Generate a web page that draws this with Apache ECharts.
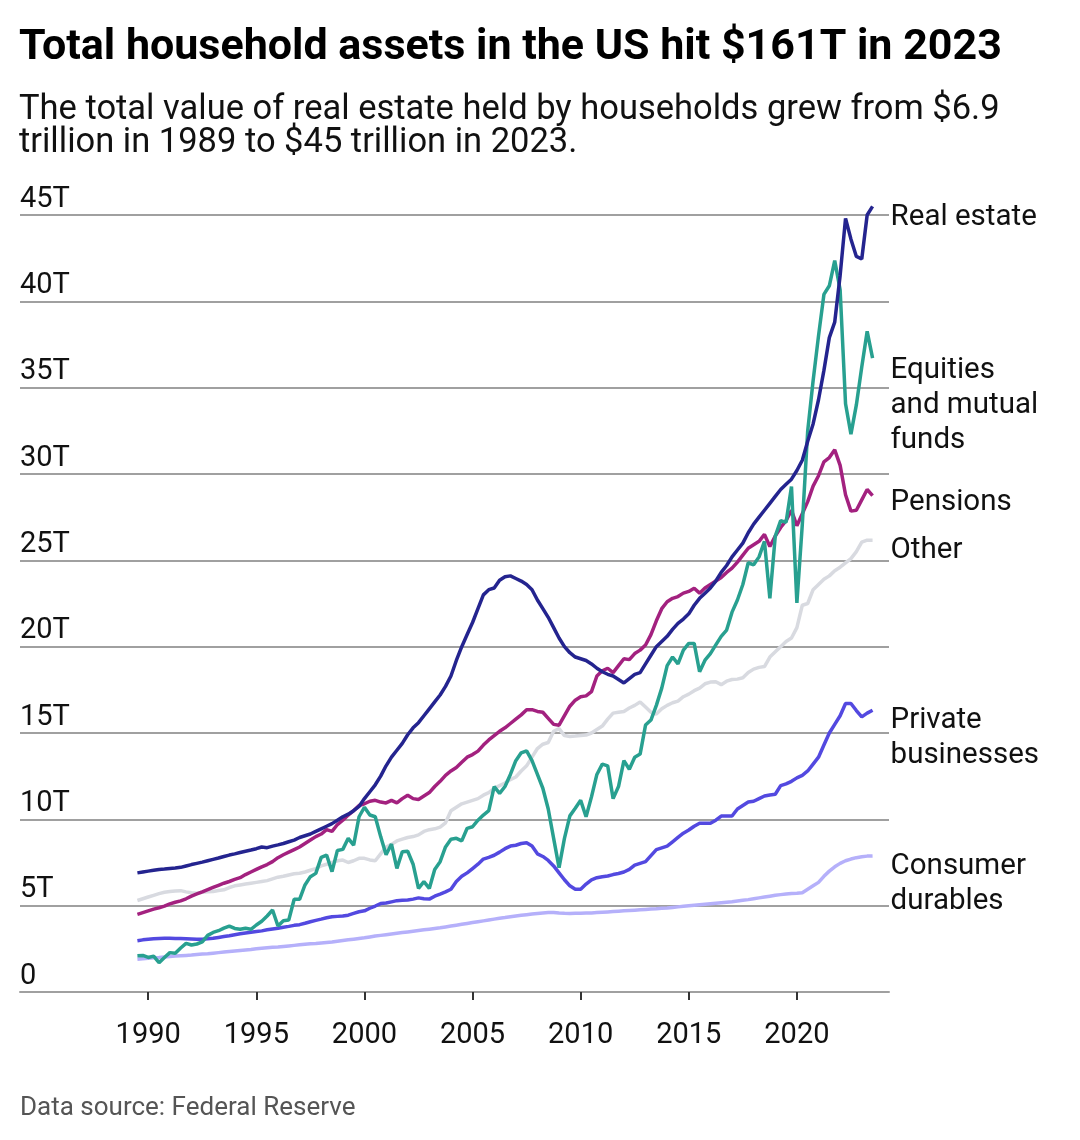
<!DOCTYPE html>
<html>
<head>
<meta charset="utf-8">
<script src="https://cdn.jsdelivr.net/npm/echarts@6/dist/echarts.min.js"></script>
<style>
  html, body { margin: 0; padding: 0; background: #fff; }
  #chart { width: 1080px; height: 1140px; }
</style>
</head>
<body>
<div id="chart"></div>
<script>
// quarterly values in trillions of dollars, Q3 1989 .. Q3 2023
var firstQuarter = 1989.5;
var yearTicks = [1990, 1995, 2000, 2005, 2010, 2015, 2020];

var realEstate = [6.9, 6.95,
  7.0, 7.05, 7.1, 7.12,   7.15, 7.18, 7.22, 7.3,   7.38, 7.45, 7.52, 7.6,   7.68, 7.76, 7.85, 7.93,
  8.0, 8.08, 8.15, 8.22,  8.3, 8.4, 8.36, 8.45,    8.52, 8.6, 8.7, 8.8,     8.95, 9.05, 9.15, 9.3,
  9.45, 9.6, 9.75, 9.95,  10.15, 10.3, 10.5, 10.75, 11.2, 11.6, 12.0, 12.5, 13.1, 13.6, 14.0, 14.4,
  14.9, 15.3, 15.6, 16.0, 16.4, 16.8, 17.2, 17.7,  18.3, 19.2, 20.0, 20.7,  21.4, 22.2, 23.0, 23.3,
  23.4, 23.85, 24.05, 24.1, 23.95, 23.8, 23.6, 23.3, 22.7, 22.2, 21.7, 21.1, 20.5, 20.0, 19.65, 19.4,
  19.3, 19.2, 19.0, 18.75, 18.55, 18.4, 18.3, 18.1, 17.9, 18.15, 18.4, 18.5, 19.0, 19.5, 20.0, 20.3,
  20.6, 21.0, 21.35, 21.6, 21.9, 22.4, 22.8, 23.1,  23.4, 23.8, 24.3, 24.7,  25.2, 25.6, 26.0, 26.6,
  27.1, 27.5, 27.9, 28.3, 28.7, 29.1, 29.4, 29.7,  30.2, 30.8, 31.9, 32.9,  34.3, 36.0, 37.9, 38.8,
  41.5, 44.8, 43.6, 42.6, 42.45, 45.0, 45.5];

var equities = [2.1, 2.12,
  2.0, 2.08, 1.7, 2.0,    2.28, 2.24, 2.55, 2.82,  2.72, 2.78, 2.9, 3.28,  3.45, 3.55, 3.7, 3.82,
  3.68, 3.63, 3.69, 3.63, 3.88, 4.1, 4.4, 4.75,    3.82, 4.13, 4.17, 5.37,  5.37, 6.2, 6.68, 6.87,
  7.8, 7.93, 6.97, 8.2,   8.26, 8.9, 8.51, 10.15,  10.7, 10.25, 10.15, 9.0, 7.95, 8.57, 7.16, 8.12,
  8.15, 7.4, 6.0, 6.39,   6.0, 7.1, 7.55, 8.4,     8.85, 8.9, 8.75, 9.48,   9.57, 9.95, 10.25, 10.5,
  11.89, 11.5, 11.9, 12.6, 13.4, 13.85, 13.97, 13.4, 12.6, 11.8, 10.6, 8.9, 7.2, 8.9, 10.2, 10.64,
  11.1, 10.15, 11.3, 12.6, 13.2, 13.1, 11.2, 11.9, 13.4, 12.9, 13.6, 13.78, 15.46, 15.75, 16.6, 17.6,
  18.9, 19.4, 19.0, 19.8, 20.19, 20.19, 18.55, 19.22, 19.6, 20.1, 20.6, 20.96, 22.0, 22.7, 23.6, 24.86,
  24.74, 25.2, 26.1, 22.8, 26.4, 27.3, 27.2, 29.27, 22.54, 27.07, 32.5, 35.4, 38.0, 40.4, 40.9, 42.36,
  40.67, 34.07, 32.31, 34.0, 36.2, 38.26, 36.71];

var pensions = [4.5, 4.6,
  4.7, 4.8, 4.88, 4.97,   5.1, 5.2, 5.28, 5.4,     5.55, 5.68, 5.8, 5.93,   6.06, 6.18, 6.3, 6.4,
  6.52, 6.62, 6.8, 6.95,  7.1, 7.25, 7.38, 7.55,   7.78, 7.95, 8.1, 8.25,   8.4, 8.6, 8.8, 9.0,
  9.15, 9.4, 9.3, 9.7,    9.95, 10.25, 10.5, 10.8, 10.9, 11.05, 11.1, 11.0, 10.95, 11.1, 10.95, 11.2,
  11.4, 11.2, 11.15, 11.35, 11.55, 11.9, 12.2, 12.55, 12.8, 13.0, 13.3, 13.6, 13.75, 13.95, 14.3, 14.6,
  14.85, 15.1, 15.3, 15.55, 15.8, 16.05, 16.35, 16.35, 16.25, 16.2, 15.85, 15.5, 15.45, 16.0, 16.55, 16.9,
  17.1, 17.15, 17.4, 18.3, 18.6, 18.75, 18.5, 18.9, 19.3, 19.25, 19.6, 19.8, 20.1, 20.7, 21.5, 22.2,
  22.6, 22.8, 22.9, 23.1, 23.2, 23.38, 23.1, 23.4,  23.6, 23.8, 24.0, 24.3,  24.55, 24.9, 25.3, 25.7,
  25.9, 26.1, 26.5, 25.8, 26.4, 26.9, 27.3, 27.9,  27.0, 27.7, 28.4, 29.3,  29.9, 30.7, 30.95, 31.4,
  30.5, 28.8, 27.85, 27.9, 28.5, 29.1, 28.75];

var other = [5.3, 5.4,
  5.5, 5.6, 5.7, 5.78,    5.82, 5.85, 5.87, 5.8,   5.75, 5.72, 5.78, 5.8,   5.82, 5.88, 5.92, 6.05,
  6.15, 6.2, 6.25, 6.3,   6.35, 6.4, 6.45, 6.55,   6.65, 6.7, 6.78, 6.85,   6.88, 6.95, 7.05, 7.15,
  7.3, 7.4, 7.5, 7.6,     7.64, 7.5, 7.6, 7.74,    7.74, 7.65, 7.6, 8.0,    8.4, 8.55, 8.75, 8.85,
  8.95, 9.0, 9.1, 9.3,    9.4, 9.45, 9.55, 9.8,    10.5, 10.7, 10.9, 11.0,  11.1, 11.2, 11.4, 11.55,
  11.8, 11.95, 12.1, 12.3, 12.45, 12.8, 13.1, 13.6, 14.1, 14.35, 14.45, 15.1, 15.25, 14.85, 14.8, 14.82,
  14.85, 14.88, 15.0, 15.2, 15.4, 15.8, 16.15, 16.2, 16.25, 16.45, 16.6, 16.8, 16.5, 16.2, 16.1, 16.4,
  16.6, 16.75, 16.85, 17.1, 17.25, 17.45, 17.6, 17.85, 17.95, 17.97, 17.8, 18.0, 18.1, 18.12, 18.2, 18.5,
  18.7, 18.8, 18.85, 19.4, 19.7, 20.0, 20.3, 20.5, 21.1, 22.4, 22.5, 23.3,  23.6, 23.9, 24.1, 24.4,
  24.6, 24.85, 25.1, 25.5, 26.05, 26.17, 26.17];

var privateBusinesses = [2.97, 3.02,
  3.06, 3.09, 3.1, 3.11,  3.11, 3.1, 3.1, 3.09,    3.07, 3.05, 3.05, 3.08,  3.11, 3.16, 3.21, 3.26,
  3.32, 3.37, 3.42, 3.46, 3.5, 3.54, 3.6, 3.65,    3.69, 3.75, 3.8, 3.86,   3.9, 3.98, 4.07, 4.15,
  4.22, 4.3, 4.36, 4.38,  4.4, 4.45, 4.55, 4.65,   4.7, 4.85, 4.98, 5.12,   5.15, 5.22, 5.29, 5.31,
  5.33, 5.38, 5.45, 5.4,  5.38, 5.55, 5.67, 5.8,   5.95, 6.4, 6.7, 6.9,     7.15, 7.4, 7.7, 7.8,
  7.92, 8.1, 8.3, 8.45,   8.5, 8.6, 8.64, 8.45,    8.0, 7.85, 7.62, 7.3,    6.9, 6.5, 6.15, 5.95,
  5.95, 6.25, 6.5, 6.62,  6.68, 6.72, 6.8, 6.86,   6.95, 7.1, 7.35, 7.45,   7.55, 7.9, 8.25, 8.35,
  8.45, 8.7, 8.95, 9.2,   9.38, 9.6, 9.77, 9.77,   9.77, 9.95, 10.19, 10.19, 10.19, 10.6, 10.8, 11.0,
  11.05, 11.2, 11.35, 11.41, 11.45, 11.95, 12.05, 12.2, 12.4, 12.55, 12.8, 13.2, 13.6, 14.3, 15.0, 15.5,
  16.0, 16.71, 16.71, 16.3, 15.93, 16.15, 16.32];

var consumerDurables = [1.89, 1.92,
  1.95, 1.98, 2.0, 2.03,  2.06, 2.08, 2.1, 2.12,   2.14, 2.17, 2.2, 2.22,   2.25, 2.28, 2.31, 2.34,
  2.37, 2.4, 2.43, 2.46,  2.5, 2.53, 2.56, 2.59,   2.61, 2.64, 2.67, 2.7,   2.73, 2.76, 2.79, 2.81,
  2.84, 2.87, 2.9, 2.94,  2.98, 3.02, 3.06, 3.1,   3.14, 3.19, 3.24, 3.28,  3.32, 3.36, 3.4, 3.44,
  3.48, 3.52, 3.56, 3.6,  3.64, 3.68, 3.72, 3.77,  3.82, 3.87, 3.92, 3.97,  4.02, 4.07, 4.12, 4.17,
  4.22, 4.27, 4.31, 4.36, 4.4, 4.44, 4.48, 4.52,   4.55, 4.58, 4.6, 4.61,   4.58, 4.56, 4.55, 4.56,
  4.56, 4.57, 4.58, 4.6,  4.62, 4.64, 4.66, 4.68,  4.7, 4.72, 4.74, 4.76,   4.78, 4.8, 4.82, 4.85,
  4.87, 4.9, 4.93, 4.96,  4.99, 5.02, 5.05, 5.08,  5.11, 5.14, 5.17, 5.2,   5.23, 5.27, 5.31, 5.35,
  5.4, 5.45, 5.5, 5.55,   5.6, 5.64, 5.68, 5.71,   5.72, 5.75, 5.95, 6.15,  6.35, 6.7, 7.0, 7.25,
  7.45, 7.6, 7.7, 7.78,   7.83, 7.87, 7.88];

var seriesDefs = [
  { name: 'Consumer durables', label: 'Consumer\ndurables', data: consumerDurables, color: '#b5b0fa', dy: 28 },
  { name: 'Private businesses', label: 'Private\nbusinesses', data: privateBusinesses, color: '#5349e0', dy: 28 },
  { name: 'Other', label: 'Other', data: other, color: '#d8dae0', dy: 10 },
  { name: 'Pensions', label: 'Pensions', data: pensions, color: '#a3217f', dy: 7 },
  { name: 'Equities and mutual funds', label: 'Equities\nand mutual\nfunds', data: equities, color: '#28a090', dy: 47 },
  { name: 'Real estate', label: 'Real estate', data: realEstate, color: '#24248f', dy: 11 }
];

function toPoints(values) {
  return values.map(function (v, i) { return [firstQuarter + i * 0.25, v]; });
}

var chart = echarts.init(document.getElementById('chart'));
var font = 'Roboto, "DejaVu Sans", sans-serif';

chart.setOption({
  animation: false,
  backgroundColor: '#ffffff',
  title: [{
    text: 'Total household assets in the US hit $161T in 2023',
    left: 19, top: 27, padding: 0,
    textStyle: { fontFamily: font, fontSize: 43, fontWeight: 'bold', color: '#000' }
  }, {
    text: 'The total value of real estate held by households grew from $6.9\ntrillion in 1989 to $45 trillion in 2023.',
    left: 19, top: 94, padding: 0,
    textStyle: { fontFamily: font, fontSize: 34.5, fontWeight: 'normal', color: '#111', lineHeight: 33 }
  }, {
    text: 'Data source: Federal Reserve',
    left: 20, top: 1095, padding: 0,
    textStyle: { fontFamily: font, fontSize: 26, fontWeight: 'normal', color: '#555' }
  }],
  grid: { left: 20, right: 191, top: 215, bottom: 148 },
  xAxis: {
    type: 'value',
    min: 1984.07,
    max: 2024.26,
    axisLine: { show: true, lineStyle: { color: '#a0a0a0', width: 2 } },
    axisTick: { show: true, customValues: yearTicks, length: 8, lineStyle: { color: '#333', width: 2 } },
    axisLabel: {
      customValues: yearTicks,
      margin: 29,
      fontFamily: font, fontSize: 29, color: '#111',
      formatter: function (v) { return String(v); }
    },
    splitLine: { show: false }
  },
  yAxis: {
    type: 'value',
    min: 0, max: 45, interval: 5,
    axisLine: { show: false },
    axisTick: { show: false },
    axisLabel: {
      inside: true,
      margin: 0,
      verticalAlign: 'bottom',
      padding: [0, 0, 1, 0],
      fontFamily: font, fontSize: 29, color: '#111',
      formatter: function (v) { return v === 0 ? '0' : v + 'T'; }
    },
    splitLine: { show: true, lineStyle: { color: '#a0a0a0', width: 2 } }
  },
  series: seriesDefs.map(function (s) {
    return {
      name: s.name,
      type: 'line',
      data: toPoints(s.data),
      showSymbol: false,
      clip: false,
      lineStyle: { color: s.color, width: 3.5 },
      itemStyle: { color: s.color },
      endLabel: {
        show: true,
        formatter: s.label,
        distance: 18,
        offset: [0, s.dy],
        fontFamily: font, fontSize: 29.5, color: '#111',
        lineHeight: 35, align: 'left'
      }
    };
  })
});
</script>
</body>
</html>
